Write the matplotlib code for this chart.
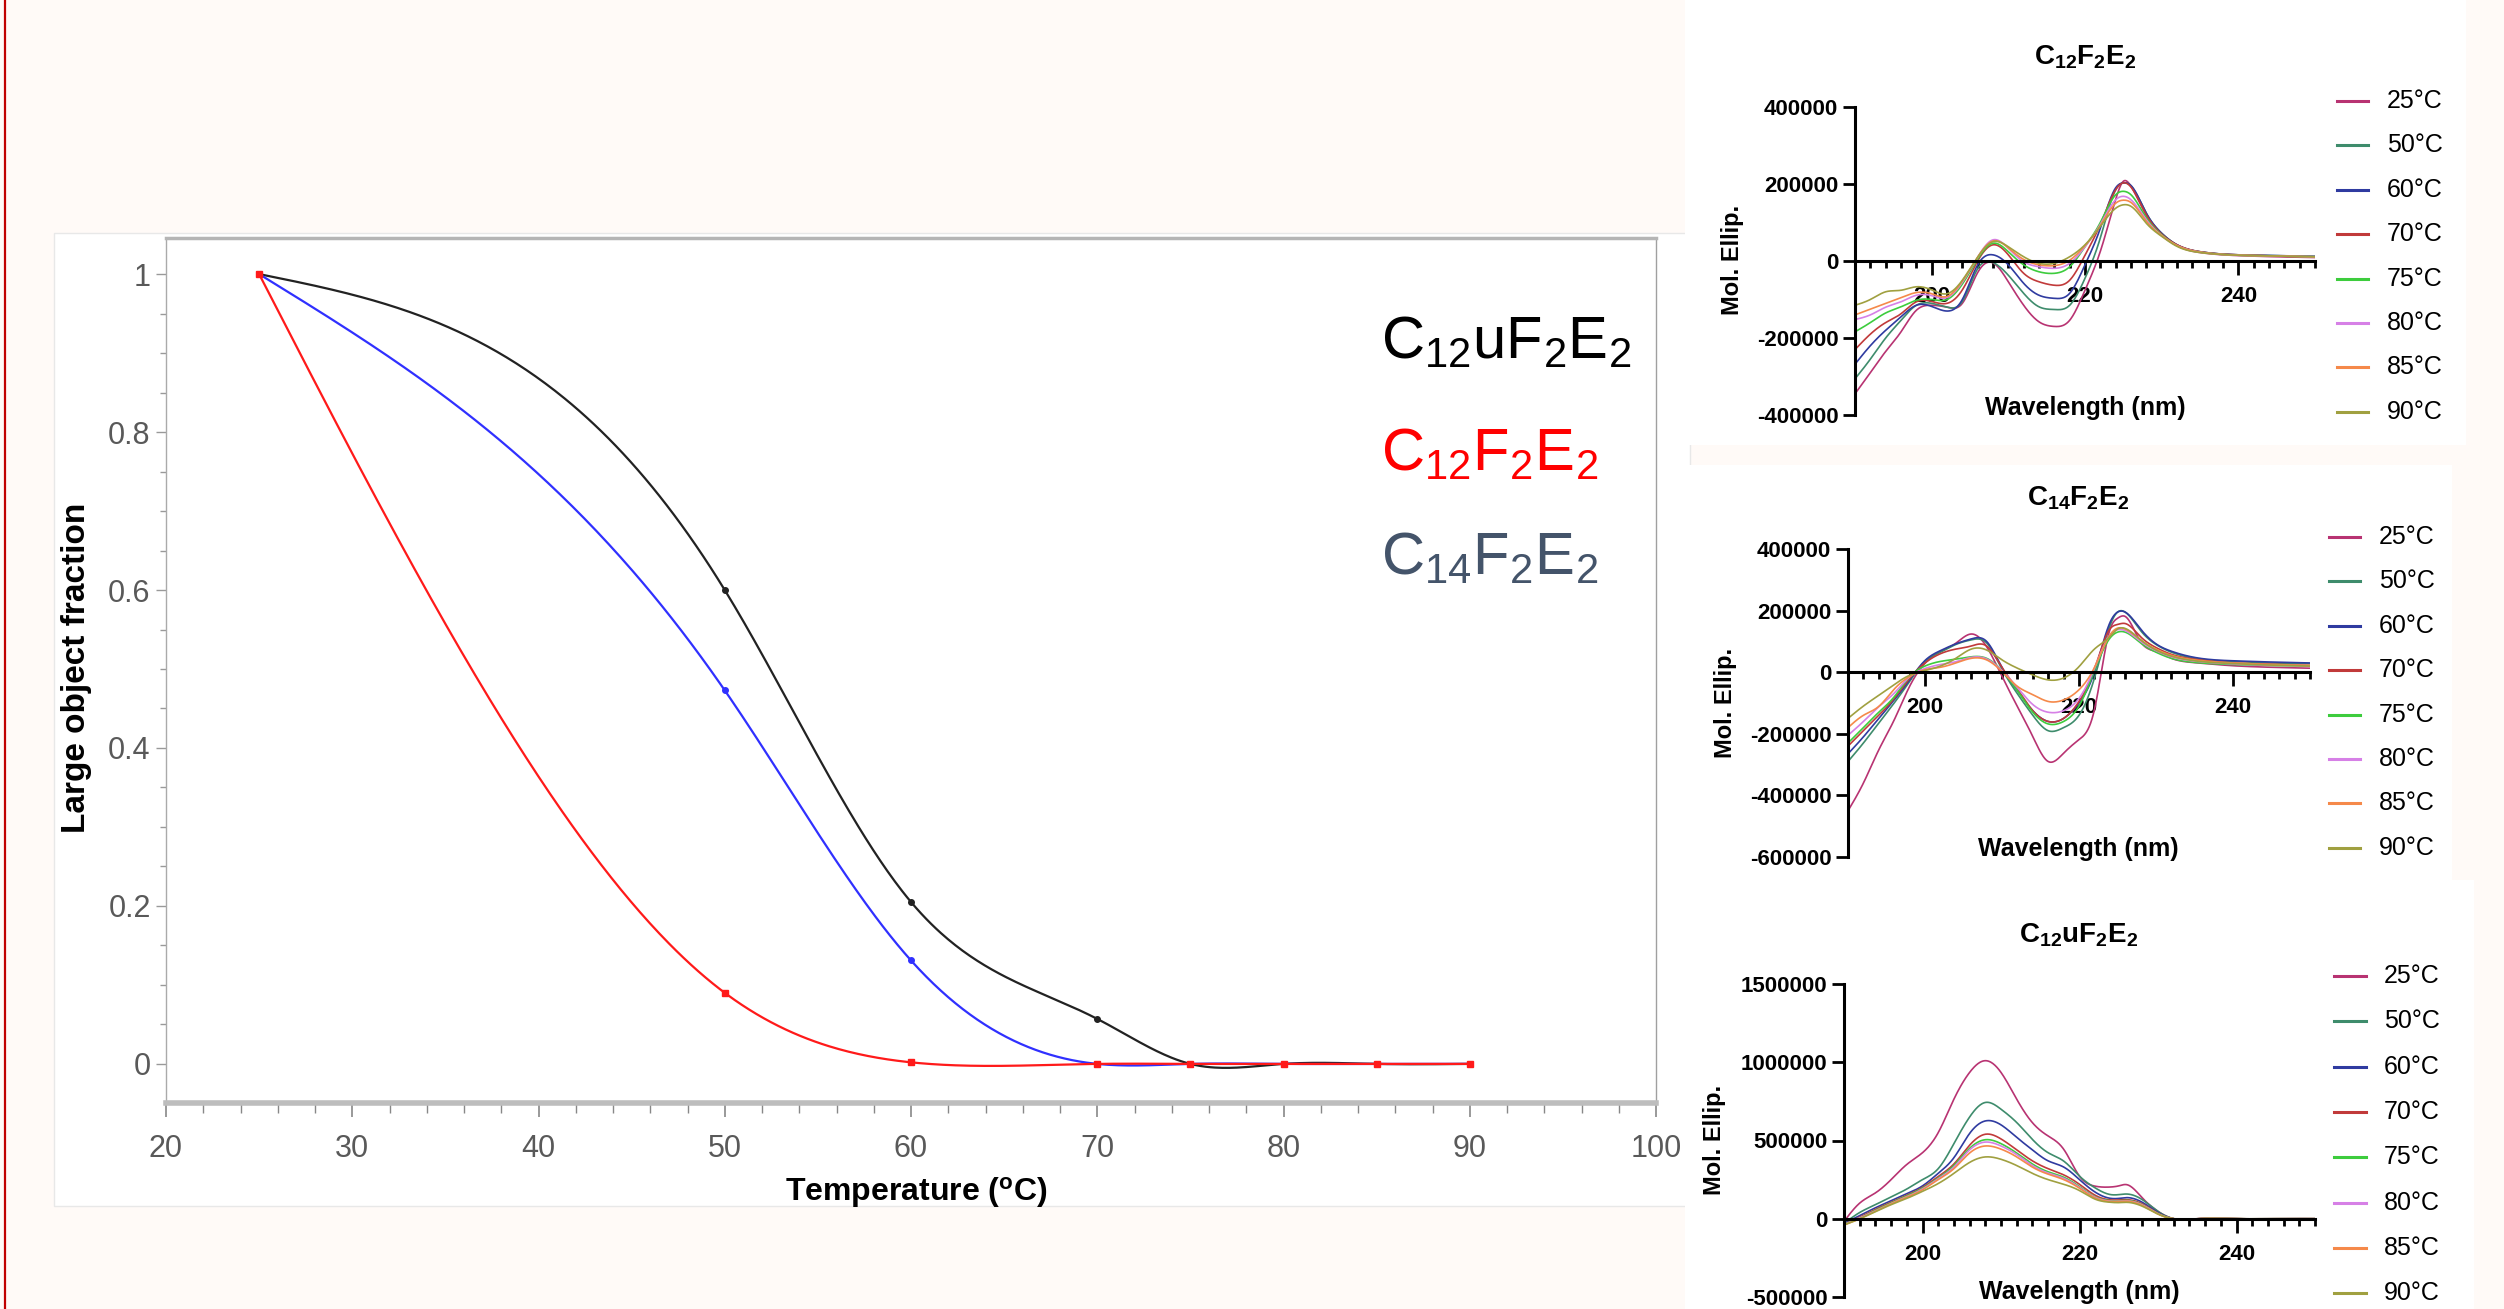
import numpy as np
import matplotlib
matplotlib.use("Agg")
import matplotlib.pyplot as plt
from matplotlib.patches import Rectangle
from matplotlib.lines import Line2D
from matplotlib.ticker import MultipleLocator, FuncFormatter

plt.rcParams["font.family"] = ["Liberation Sans", "DejaVu Sans"]
plt.rcParams["mathtext.default"] = "regular"
plt.rcParams["axes.unicode_minus"] = False

# ---- main chart: large object fraction vs temperature ----
temps_main = [25, 50, 60, 70, 75, 80, 85, 90]
frac_c12u = [1.0, 0.60, 0.205, 0.057, 0.0, 0.0, 0.0, 0.0]
frac_c12 = [1.0, 0.09, 0.002, 0.0, 0.0, 0.0, 0.0, 0.0]
frac_c14 = [1.0, 0.473, 0.131, 0.0, 0.0, 0.0, 0.0, 0.0]

# ---- CD spectra (values in thousands of Mol. Ellip.) ----
wl = [190, 192, 194, 196, 198, 200, 202, 204, 206, 208, 210, 212, 214, 216,
      218, 220, 222, 224, 225, 226, 228, 230, 232, 235, 240, 245, 250]
cd_temps = ["25", "50", "60", "70", "75", "80", "85", "90"]

c12_cd = [
    [-345, -290, -235, -184, -128, -115, -120, -110, -30, -5, -54, -115, -158, -170, -154, -76, 25, 160, 207, 194, 118, 70, 40, 22, 14, 11, 9],
    [-306, -255, -200, -154, -115, -110, -120, -105, -20, -4, -37, -84, -119, -126, -115, -45, 60, 185, 203, 195, 124, 72, 42, 24, 16, 14, 12],
    [-268, -220, -180, -145, -115, -118, -130, -100, -10, 16, -10, -58, -89, -97, -84, -10, 85, 190, 203, 196, 124, 72, 42, 24, 16, 14, 12],
    [-230, -190, -160, -137, -106, -105, -110, -75, 0, 42, 16, -32, -54, -63, -50, 15, 95, 185, 203, 192, 120, 70, 42, 24, 16, 13, 10],
    [-184, -160, -135, -119, -102, -100, -100, -60, 5, 46, 24, -10, -28, -32, -15, 37, 100, 172, 181, 172, 112, 68, 40, 23, 15, 13, 11],
    [-152, -140, -120, -106, -89, -90, -95, -55, 10, 55, 33, -2, -15, -19, -6, 37, 95, 159, 168, 159, 107, 66, 40, 23, 15, 13, 11],
    [-140, -125, -110, -95, -82, -85, -92, -52, 10, 52, 34, 4, -10, -12, 2, 40, 92, 150, 158, 152, 103, 66, 40, 23, 15, 13, 11],
    [-115, -100, -80, -76, -67, -75, -85, -50, 10, 50, 37, 11, -6, -6, 11, 42, 90, 137, 146, 142, 98, 64, 38, 22, 15, 13, 11],
]

c14_cd = [
    [-450, -360, -252, -155, -46, 29, 67, 94, 124, 83, -14, -111, -209, -290, -263, -219, -122, 137, 175, 181, 99, 67, 45, 31, 21, 16, 13],
    [-290, -230, -165, -100, -30, 35, 65, 90, 105, 95, 10, -70, -140, -190, -180, -140, -20, 150, 195, 195, 135, 90, 65, 45, 35, 30, 28],
    [-265, -210, -150, -90, -25, 38, 70, 92, 108, 100, 15, -60, -125, -160, -150, -100, 0, 160, 195, 195, 140, 92, 68, 48, 37, 33, 30],
    [-240, -190, -140, -85, -20, 30, 60, 75, 85, 85, 15, -55, -125, -160, -150, -95, 10, 140, 155, 158, 115, 80, 58, 42, 30, 26, 22],
    [-230, -180, -130, -80, -15, 20, 35, 42, 50, 45, 5, -60, -130, -168, -160, -110, 5, 110, 130, 130, 95, 65, 45, 32, 25, 22, 20],
    [-205, -160, -112, -68, -15, 12, 25, 34, 48, 43, 5, -50, -105, -130, -125, -85, 12, 120, 138, 135, 100, 70, 50, 36, 27, 23, 21],
    [-180, -140, -111, -55, -14, 8, 16, 30, 45, 40, 2, -46, -73, -95, -90, -57, 15, 120, 143, 140, 105, 75, 55, 40, 30, 25, 22],
    [-150, -110, -75, -40, -10, 5, 20, 45, 75, 72, 40, 13, -9, -25, -19, 18, 75, 115, 140, 142, 105, 72, 52, 37, 28, 23, 20],
]

c12u_cd = [
    [-17, 100, 165, 250, 347, 422, 550, 764, 935, 1010, 935, 764, 614, 529, 443, 272, 208, 203, 210, 218, 133, 47, 0, 0, 0, 0, 0],
    [-30, 40, 90, 140, 190, 250, 320, 480, 650, 743, 700, 615, 507, 422, 368, 272, 197, 154, 154, 158, 122, 47, 0, -2, 0, 0, 0],
    [-30, 20, 70, 115, 160, 210, 290, 390, 545, 625, 600, 520, 440, 370, 330, 250, 170, 130, 130, 135, 105, 40, 0, 0, 0, 0, 0],
    [-35, 10, 60, 105, 150, 200, 270, 350, 470, 540, 510, 440, 370, 320, 280, 220, 150, 120, 120, 122, 95, 35, 0, 0, 0, 0, 0],
    [-35, 5, 55, 100, 145, 195, 260, 340, 450, 505, 480, 420, 350, 300, 265, 205, 140, 115, 115, 117, 90, 33, 0, 0, 0, 0, 0],
    [-38, 5, 50, 97, 140, 190, 255, 330, 440, 490, 465, 410, 340, 292, 258, 200, 137, 112, 112, 114, 88, 32, 0, 0, 0, 0, 0],
    [-40, 0, 48, 95, 138, 185, 250, 320, 420, 465, 445, 395, 330, 285, 250, 195, 133, 110, 110, 112, 85, 30, 0, 0, 0, 0, 0],
    [-40, 0, 45, 90, 130, 175, 225, 290, 360, 395, 380, 340, 290, 250, 220, 180, 125, 105, 103, 105, 80, 30, 0, 0, 0, 0, 0],
]

cd_colors = ["#B83372", "#3E8C6C", "#2F3BA0", "#C13A3A",
             "#3DCC3D", "#D680E6", "#F5894A", "#A0A040"]

W, H = 2504, 1309


def fx(x):
    return x / W


def fy(y):
    return 1 - y / H


def box(l, t, r, b):
    return [l / W, 1 - b / H, (r - l) / W, (b - t) / H]


def smooth(x, y, n=500):
    # natural cubic spline, only used to draw the line smoothly
    x = np.asarray(x, float)
    y = np.asarray(y, float)
    h = np.diff(x)
    A = np.zeros((len(x), len(x)))
    rhs = np.zeros(len(x))
    A[0, 0] = A[-1, -1] = 1
    for i in range(1, len(x) - 1):
        A[i, i - 1] = h[i - 1]
        A[i, i] = 2 * (h[i - 1] + h[i])
        A[i, i + 1] = h[i]
        rhs[i] = 6 * ((y[i + 1] - y[i]) / h[i] - (y[i] - y[i - 1]) / h[i - 1])
    M = np.linalg.solve(A, rhs)
    xs = np.linspace(x[0], x[-1], n)
    idx = np.clip(np.searchsorted(x, xs) - 1, 0, len(x) - 2)
    x0, x1 = x[idx], x[idx + 1]
    hh = x1 - x0
    a = (x1 - xs) / hh
    b = (xs - x0) / hh
    ys = a * y[idx] + b * y[idx + 1] + ((a ** 3 - a) * M[idx] + (b ** 3 - b) * M[idx + 1]) * hh ** 2 / 6
    return xs, ys


fig = plt.figure(figsize=(25.04, 13.09), dpi=100)
fig.patch.set_facecolor("#FFFAF7")

# backgrounds of the pasted pieces
fig.add_artist(Rectangle((fx(54), fy(1206)), (1690 - 54) / W, (1206 - 233) / H,
                         transform=fig.transFigure, fc="white", ec="#E8E8E8",
                         lw=1, zorder=-1))
for (l, t, r, b) in [(1685, 0, 2466, 445), (1685, 465, 2452, 880),
                     (1685, 880, 2474, 1309)]:
    fig.add_artist(Rectangle((fx(l), fy(b)), (r - l) / W, (b - t) / H,
                             transform=fig.transFigure, fc="white",
                             ec="none", zorder=-1))
fig.add_artist(Line2D([fx(5), fx(5)], [0, 1], color="#C00000", lw=1.6))

# ---------------- main chart ----------------
ax = fig.add_axes(box(166, 238, 1656, 1103))
ax.set_facecolor("none")
main_series = [
    (frac_c12u, "#222222", "o"),
    (frac_c14, "#3030FF", "o"),
    (frac_c12, "#FF1A1A", "s"),
]
for vals, col, mk in main_series:
    xs, ys = smooth(temps_main, vals)
    ax.plot(xs, ys, color=col, lw=1.6)
for vals, col, mk in main_series:
    ax.plot(temps_main, vals, ls="none", marker=mk, ms=4, color=col)

ax.set_xlim(20, 100)
ax.set_ylim(-0.0495, 1.0457)
ax.xaxis.set_major_locator(MultipleLocator(10))
ax.xaxis.set_minor_locator(MultipleLocator(2))
ax.yaxis.set_major_locator(MultipleLocator(0.2))
ax.yaxis.set_minor_locator(MultipleLocator(0.05))
ax.yaxis.set_major_formatter(FuncFormatter(lambda v, p: f"{round(v, 2):g}"))
ax.spines["top"].set_color("#B5B5B5")
ax.spines["top"].set_linewidth(2.5)
ax.spines["right"].set_color("#A0A0A0")
ax.spines["right"].set_linewidth(1)
ax.spines["left"].set_color("#AAAAAA")
ax.spines["left"].set_linewidth(1)
ax.spines["bottom"].set_color("#BDBDBD")
ax.spines["bottom"].set_linewidth(4)
ax.tick_params(axis="y", which="major", length=7, width=1, color="#999999",
               labelsize=22, labelcolor="#595959", pad=4)
ax.tick_params(axis="y", which="minor", length=4, width=1, color="#999999")
ax.tick_params(axis="x", which="major", length=10, width=1.2, color="#888888",
               labelsize=22, labelcolor="#595959", pad=12)
ax.tick_params(axis="x", which="minor", length=7, width=1, color="#888888")

fig.text(fx(77), fy(668), "Large object fraction", rotation=90, ha="center",
         va="center", fontsize=24, fontweight="bold")
fig.text(fx(916), fy(1192), "Temperature ($^{o}$C)", ha="center", va="center",
         fontsize=23, fontweight="bold")

main_labels = [("C$_{12}$uF$_2$E$_2$", "#000000", 343),
               ("C$_{12}$F$_2$E$_2$", "#FF0000", 455),
               ("C$_{14}$F$_2$E$_2$", "#44546A", 559)]
for txt, col, ypx in main_labels:
    fig.text(fx(1381), fy(ypx), txt, color=col, fontsize=43, ha="left", va="center")


# ---------------- CD panels ----------------
def cd_panel(frame, ylim, ystep, title, curves, title_xy, xlab_xy, ylab_xy,
             leg_line, leg_text_x, leg_y0, leg_dy):
    cax = fig.add_axes(box(*frame))
    cax.set_facecolor("none")
    for vals, col in zip(curves, cd_colors):
        xs, ys = smooth(wl, np.array(vals) * 1000.0, n=700)
        cax.plot(xs, ys, color=col, lw=1.2)
    cax.set_xlim(190, 250)
    cax.set_ylim(*ylim)
    cax.spines["top"].set_visible(False)
    cax.spines["right"].set_visible(False)
    cax.spines["bottom"].set_position(("data", 0))
    for s in ("left", "bottom"):
        cax.spines[s].set_linewidth(2.2)
        cax.spines[s].set_color("black")
    cax.set_xticks([200, 220, 240])
    cax.xaxis.set_minor_locator(MultipleLocator(2))
    cax.yaxis.set_major_locator(MultipleLocator(ystep))
    cax.yaxis.set_major_formatter(FuncFormatter(lambda v, p: f"{int(round(v))}"))
    cax.tick_params(axis="x", which="major", length=10, width=2, pad=8)
    cax.tick_params(axis="x", which="minor", length=5, width=2)
    cax.tick_params(axis="y", which="major", length=9, width=2, pad=3)
    for lab in cax.get_xticklabels() + cax.get_yticklabels():
        lab.set_fontweight("bold")
        lab.set_fontsize(16)
    fig.text(fx(title_xy[0]), fy(title_xy[1]), title, ha="center", va="center",
             fontsize=20, fontweight="bold")
    fig.text(fx(xlab_xy[0]), fy(xlab_xy[1]), "Wavelength (nm)", ha="center",
             va="center", fontsize=18, fontweight="bold")
    fig.text(fx(ylab_xy[0]), fy(ylab_xy[1]), "Mol. Ellip.", rotation=90,
             ha="center", va="center", fontsize=17, fontweight="bold")
    for i, (t, col) in enumerate(zip(cd_temps, cd_colors)):
        ypx = leg_y0 + i * leg_dy
        fig.add_artist(Line2D([fx(leg_line[0]), fx(leg_line[1])], [fy(ypx), fy(ypx)],
                              color=col, lw=2.2))
        fig.text(fx(leg_text_x), fy(ypx), f"{t}°C", fontsize=18, ha="left", va="center")


cd_panel((1855, 107, 2315, 415), (-400000, 400000), 200000,
         "C$_{12}$F$_2$E$_2$", c12_cd, (2085, 57), (2085, 408), (1733, 260),
         (2337, 2368), 2387, 101, 44.4)
cd_panel((1848, 549, 2310, 857), (-600000, 400000), 200000,
         "C$_{14}$F$_2$E$_2$", c14_cd, (2078, 498), (2078, 849), (1725, 703),
         (2329, 2360), 2379, 537, 44.4)
cd_panel((1844, 984, 2315, 1297), (-500000, 1500000), 500000,
         "C$_{12}$uF$_2$E$_2$", c12u_cd, (2079, 935), (2079, 1292), (1714, 1140),
         (2334, 2366), 2384, 976, 45.3)

fig.savefig("out.png", dpi=100, facecolor=fig.get_facecolor())
